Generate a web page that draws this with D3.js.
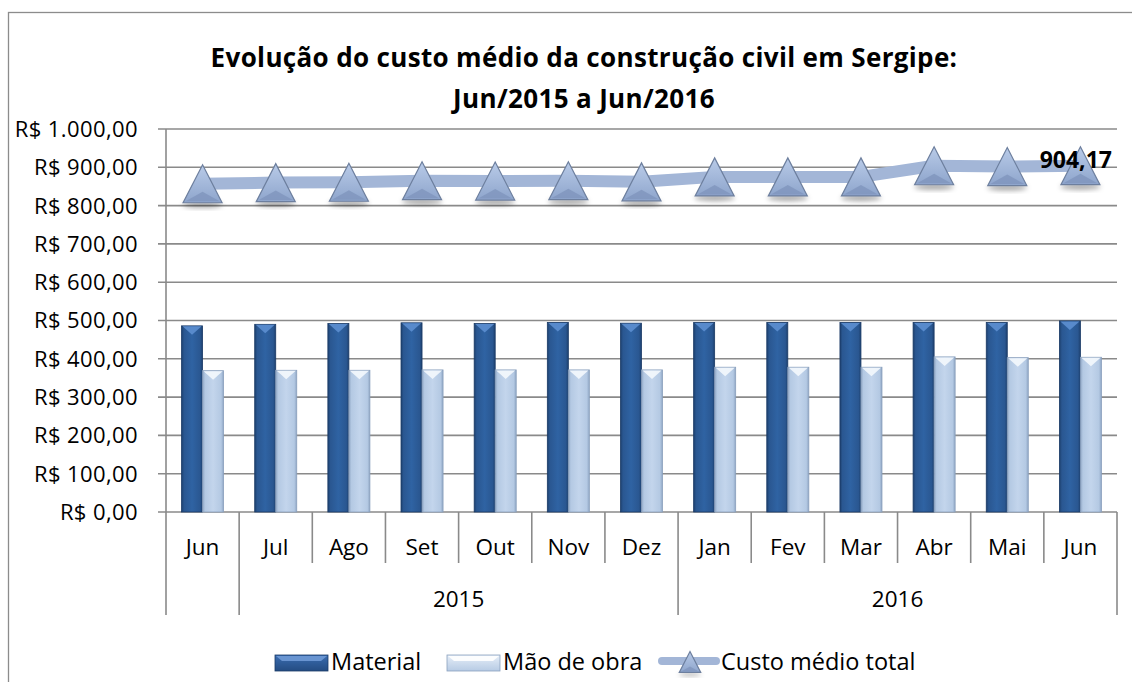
<!DOCTYPE html>
<html>
<head>
<meta charset="utf-8">
<script src="https://cdn.jsdelivr.net/npm/d3@7"></script>
<style>
  body { margin: 0; background: #fff; }
  svg { display: block; font-family: "Open Sans", Lato, sans-serif; }
</style>
</head>
<body>
<svg id="chart" width="1132" height="682"></svg>
<script>
// data
var months = ["Jun","Jul","Ago","Set","Out","Nov","Dez","Jan","Fev","Mar","Abr","Mai","Jun"];
var years = [
  {label: "", from: 0, to: 0},
  {label: "2015", from: 1, to: 6},
  {label: "2016", from: 7, to: 12}
];
var material = [486, 490, 492, 494, 492, 495, 493, 495, 495, 495, 495, 495, 499];
var maoDeObra = [369, 370, 370, 371, 371, 371, 371, 378, 378, 378, 405, 403, 404];
var custoTotal = [857, 860, 861, 865, 864, 865, 862, 875, 875, 875, 904, 902, 904.17];
var yTicks = [0, 100, 200, 300, 400, 500, 600, 700, 800, 900, 1000];
var title = ["Evolução do custo médio da construção civil em Sergipe:", "Jun/2015 a Jun/2016"];

var svg = d3.select("#chart");
var margin = {left: 166, right: 1117, top: 129, bottom: 512};

var fmt = function(v) {
  var s = d3.format(",.2f")(v);
  return "R$ " + s.replace(/,/g, "#").replace(/\./g, ",").replace(/#/g, ".");
};

var x = d3.scaleBand()
  .domain(d3.range(months.length))
  .range([margin.left, margin.right])
  .paddingInner(0).paddingOuter(0);

var xs = d3.scaleBand()
  .domain(["material", "mao"])
  .range([0, x.bandwidth()])
  .paddingInner(0).paddingOuter(0.74);

var y = d3.scaleLinear().domain([0, 1000]).range([margin.bottom, margin.top]);

var defs = svg.append("defs");

function hGrad(id, stops) {
  var g = defs.append("linearGradient").attr("id", id)
    .attr("x1", "0").attr("x2", "1").attr("y1", "0").attr("y2", "0");
  stops.forEach(function(s) {
    g.append("stop").attr("offset", s[0]).attr("stop-color", s[1]);
  });
}
hGrad("matGrad", [[0, "#1d406e"], [0.12, "#2a5791"], [0.5, "#2f63a3"], [0.88, "#2a5791"], [1, "#1d406e"]]);
hGrad("moGrad", [[0, "#8fa6c4"], [0.12, "#b4c9e3"], [0.5, "#c3d5ec"], [0.88, "#b4c9e3"], [1, "#8fa6c4"]]);

var tg = defs.append("linearGradient").attr("id", "triGrad")
  .attr("x1", "0").attr("x2", "0").attr("y1", "0").attr("y2", "1");
tg.append("stop").attr("offset", 0).attr("stop-color", "#b9cbe8");
tg.append("stop").attr("offset", 1).attr("stop-color", "#8ea5cc");

var sh = defs.append("filter").attr("id", "blur").attr("x", "-50%").attr("y", "-50%")
  .attr("width", "200%").attr("height", "200%");
sh.append("feGaussianBlur").attr("stdDeviation", 2.5);

// outer frame
svg.append("rect")
  .attr("x", 8.5).attr("y", 12.5)
  .attr("width", 1140).attr("height", 700)
  .style("fill", "#fff").style("stroke", "#8c8c8c").style("stroke-width", 1.3);

// title
svg.selectAll("text.title")
  .data(title)
  .enter().append("text")
  .attr("class", "title")
  .attr("x", 584)
  .attr("y", function(d, i) { return 67 + i * 41; })
  .attr("text-anchor", "middle")
  .style("font-size", "26px").style("font-weight", "bold").style("fill", "#000")
  .style("letter-spacing", "0.35px")
  .text(function(d) { return d; });

// grid lines
svg.append("g").selectAll("line")
  .data(yTicks)
  .enter().append("line")
  .attr("x1", margin.left - 8).attr("x2", margin.right)
  .attr("y1", function(d) { return y(d); })
  .attr("y2", function(d) { return y(d); })
  .style("stroke", "#8a8a8a").style("stroke-width", 1.6);

// y axis line
svg.append("line")
  .attr("x1", margin.left).attr("x2", margin.left)
  .attr("y1", margin.top).attr("y2", margin.bottom)
  .style("stroke", "#8a8a8a").style("stroke-width", 1.6);

// y labels
svg.append("g").selectAll("text")
  .data(yTicks)
  .enter().append("text")
  .attr("x", 138)
  .attr("y", function(d) { return y(d); })
  .attr("dy", "0.36em")
  .attr("text-anchor", "end")
  .style("font-size", "22px").style("fill", "#000")
  .style("letter-spacing", "0.4px")
  .text(fmt);

// category axis separators
var bounds = d3.range(months.length + 1).map(function(i) {
  return i < months.length ? x(i) : margin.right;
});
var groupEdges = [0, 1, 7, 13];
svg.append("g").selectAll("line")
  .data(bounds)
  .enter().append("line")
  .attr("x1", function(d) { return d; })
  .attr("x2", function(d) { return d; })
  .attr("y1", margin.bottom)
  .attr("y2", function(d, i) { return groupEdges.indexOf(i) >= 0 ? 615 : 563; })
  .style("stroke", "#8a8a8a").style("stroke-width", 1.6);

svg.append("g").selectAll("text")
  .data(months)
  .enter().append("text")
  .attr("x", function(d, i) { return x(i) + x.bandwidth() / 2; })
  .attr("y", 555)
  .attr("text-anchor", "middle")
  .style("font-size", "22.5px").style("fill", "#000")
  .text(function(d) { return d; });

svg.append("g").selectAll("text")
  .data(years)
  .enter().append("text")
  .attr("x", function(d) { return (x(d.from) + x(d.to) + x.bandwidth()) / 2; })
  .attr("y", 607)
  .attr("text-anchor", "middle")
  .style("font-size", "22.5px").style("fill", "#000")
  .text(function(d) { return d.label; });

// bars
function drawBars(values, key, grad, edge, bevel) {
  var g = svg.append("g").selectAll("g")
    .data(values)
    .enter().append("g")
    .attr("transform", function(d, i) { return "translate(" + (x(i) + xs(key)) + "," + y(d) + ")"; });
  var w = xs.bandwidth();
  g.append("rect")
    .attr("x", 0).attr("y", 0)
    .attr("width", w)
    .attr("height", function(d) { return y(0) - y(d); })
    .style("fill", "url(#" + grad + ")")
    .style("stroke", edge).style("stroke-width", 0.8);
  g.append("path")
    .attr("d", "M1,0.5 L" + (w - 1) + ",0.5 L" + (w / 2) + ",9 Z")
    .style("fill", bevel).style("opacity", 0.9);
}
drawBars(material, "material", "matGrad", "#1a3a66", "#5d8fd0");
drawBars(maoDeObra, "mao", "moGrad", "#8aa0bd", "#f4f8fd");

// total line
var cx = function(i) { return x(i) + x.bandwidth() / 2; };
var line = d3.line()
  .x(function(d, i) { return cx(i); })
  .y(function(d) { return y(d); });

svg.append("path")
  .datum(custoTotal)
  .attr("d", line)
  .style("fill", "none")
  .style("stroke", "#a3b6d7")
  .style("stroke-width", 12)
  .style("stroke-linejoin", "round");

function triangle(sel, s) {
  sel.append("ellipse")
    .attr("cx", 0).attr("cy", 19 * s + 2)
    .attr("rx", 20 * s).attr("ry", 3 * s)
    .style("fill", "rgba(0,0,0,0.35)")
    .attr("filter", "url(#blur)");
  sel.append("path")
    .attr("d", "M0," + (-19 * s) + " L" + (19.5 * s) + "," + (19 * s) + " L" + (-19.5 * s) + "," + (19 * s) + " Z")
    .style("fill", "url(#triGrad)")
    .style("stroke", "#6d7f9e").style("stroke-width", 1.2);
  sel.append("path")
    .attr("d", "M" + (-17 * s) + "," + (17.5 * s) + " L0," + (8 * s) + " L" + (17 * s) + "," + (17.5 * s) + " Z")
    .style("fill", "#7f95bd").style("opacity", 0.8);
}

var tri = svg.append("g").selectAll("g")
  .data(custoTotal)
  .enter().append("g")
  .attr("transform", function(d, i) { return "translate(" + cx(i) + "," + y(d) + ")"; });
tri.each(function() { triangle(d3.select(this), 1); });

// data label on last point
var last = custoTotal.length - 1;
svg.append("text")
  .attr("x", 1112)
  .attr("y", y(custoTotal[last]))
  .attr("dy", "0.1em")
  .attr("text-anchor", "end")
  .style("font-size", "23px").style("font-weight", "bold").style("fill", "#000")
  .text(d3.format(".2f")(custoTotal[last]).replace(".", ","));

// legend
var lg = svg.append("g");
function legendBar(x0, grad, edge, bevel) {
  lg.append("rect").attr("x", x0).attr("y", 655).attr("width", 53).attr("height", 16)
    .style("fill", grad).style("stroke", edge).style("stroke-width", 0.8);
  lg.append("path")
    .attr("d", "M" + (x0 + 1) + ",656 L" + (x0 + 52) + ",656 L" + (x0 + 46) + ",661 L" + (x0 + 7) + ",661 Z")
    .style("fill", bevel).style("opacity", 0.9);
}
var lgGrad = defs.append("linearGradient").attr("id", "lgMat").attr("x1", 0).attr("x2", 0).attr("y1", 0).attr("y2", 1);
lgGrad.append("stop").attr("offset", 0).attr("stop-color", "#3a6cb0");
lgGrad.append("stop").attr("offset", 1).attr("stop-color", "#244c82");
var lgGrad2 = defs.append("linearGradient").attr("id", "lgMo").attr("x1", 0).attr("x2", 0).attr("y1", 0).attr("y2", 1);
lgGrad2.append("stop").attr("offset", 0).attr("stop-color", "#e6eef8");
lgGrad2.append("stop").attr("offset", 1).attr("stop-color", "#b7cbe4");

legendBar(275, "url(#lgMat)", "#1a3a66", "#6f9ad6");
legendBar(447, "url(#lgMo)", "#8aa0bd", "#ffffff");
lg.append("line").attr("x1", 662).attr("x2", 716).attr("y1", 661).attr("y2", 661)
  .style("stroke", "#a3b6d7").style("stroke-width", 8).style("stroke-linecap", "round");
var lt = lg.append("g").attr("transform", "translate(690,662)");
triangle(lt, 0.55);

var legendText = [["Material", 331], ["Mão de obra", 503], ["Custo médio total", 721]];
lg.selectAll("text")
  .data(legendText)
  .enter().append("text")
  .attr("x", function(d) { return d[1]; })
  .attr("y", 670)
  .style("font-size", "23.5px").style("fill", "#000")
  .text(function(d) { return d[0]; });
</script>
</body>
</html>
